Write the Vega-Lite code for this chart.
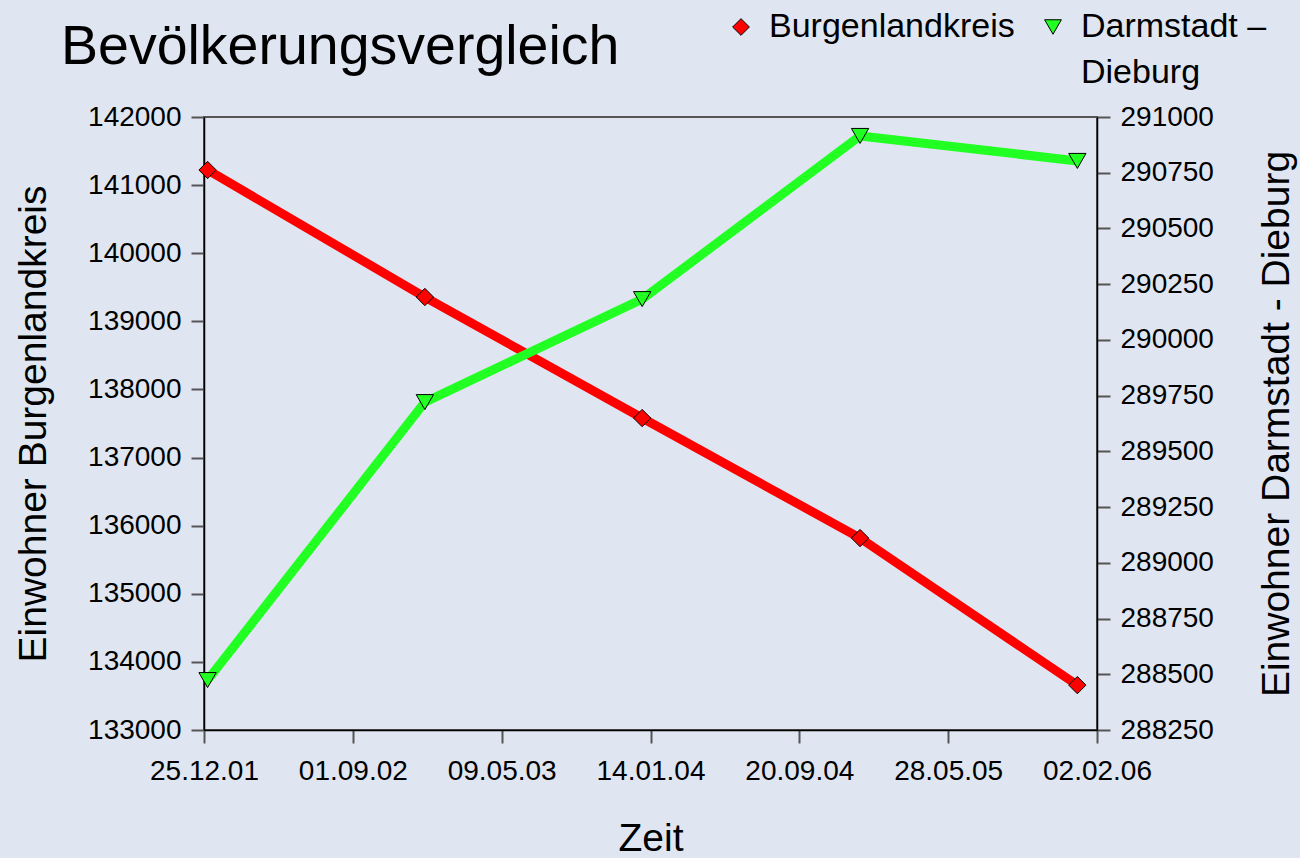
{
  "$schema": "https://vega.github.io/schema/vega-lite/v6.json",
  "autosize": "none",
  "width": 893,
  "height": 613,
  "padding": {"left": 204, "top": 117, "right": 203, "bottom": 128},
  "background": "#dfe6f1",
  "title": {
    "text": "Bevölkerungsvergleich",
    "anchor": "start",
    "frame": "group",
    "dx": -143,
    "dy": 65,
    "fontSize": 55.5,
    "font": "Liberation Sans",
    "fontWeight": "normal",
    "color": "#000000",
    "offset": 0
  },
  "config": {
    "font": "Liberation Sans",
    "view": {"stroke": "#555555", "strokeWidth": 2, "fill": null},
    "style": {"guide-label": {"lineHeight": 46}},
    "axis": {
      "grid": false,
      "domainColor": "#000000",
      "domainWidth": 1.5,
      "tickColor": "#555555",
      "tickWidth": 2,
      "tickSize": 13,
      "labelFontSize": 28,
      "labelColor": "#000000",
      "labelPadding": 10,
      "labelOverlap": false,
      "labelFlush": false,
      "titleFontSize": 39,
      "titleFontWeight": "normal",
      "titleColor": "#000000"
    },
    "legend": {
      "labelFontSize": 34,
      "labelColor": "#000000"
    }
  },
  "data": {
    "values": [
      {"date": "2001-12-31", "series": "Burgenlandkreis", "value": 141222},
      {"date": "2002-12-31", "series": "Burgenlandkreis", "value": 139357},
      {"date": "2003-12-31", "series": "Burgenlandkreis", "value": 137580},
      {"date": "2004-12-31", "series": "Burgenlandkreis", "value": 135818},
      {"date": "2005-12-31", "series": "Burgenlandkreis", "value": 133659},
      {"date": "2001-12-31", "series": "Darmstadt – Dieburg", "value": 288474},
      {"date": "2002-12-31", "series": "Darmstadt – Dieburg", "value": 289721},
      {"date": "2003-12-31", "series": "Darmstadt – Dieburg", "value": 290183},
      {"date": "2004-12-31", "series": "Darmstadt – Dieburg", "value": 290915},
      {"date": "2005-12-31", "series": "Darmstadt – Dieburg", "value": 290803}
    ]
  },
  "encoding": {
    "x": {
      "field": "date",
      "type": "temporal",
      "scale": {
        "type": "utc",
        "domain": [
          {"year": 2001, "month": 12, "date": 25, "utc": true},
          {"year": 2006, "month": 2, "date": 2, "utc": true}
        ]
      },
      "axis": {
        "title": "Zeit",
        "format": "%d.%m.%y",
        "labelPadding": 14,
        "titlePadding": 34,
        "values": [
          {"year": 2001, "month": 12, "date": 25, "utc": true},
          {"year": 2002, "month": 9, "date": 1, "utc": true},
          {"year": 2003, "month": 5, "date": 9, "utc": true},
          {"year": 2004, "month": 1, "date": 14, "utc": true},
          {"year": 2004, "month": 9, "date": 20, "utc": true},
          {"year": 2005, "month": 5, "date": 28, "utc": true},
          {"year": 2006, "month": 2, "date": 2, "utc": true}
        ]
      }
    }
  },
  "layer": [
    {
      "transform": [{"filter": "datum.series === 'Burgenlandkreis'"}],
      "encoding": {
        "y": {
          "field": "value",
          "type": "quantitative",
          "scale": {"domain": [133000, 142000], "zero": false, "nice": false},
          "axis": {
            "orient": "left",
            "title": "Einwohner Burgenlandkreis",
            "format": "d",
            "values": [133000, 134000, 135000, 136000, 137000, 138000, 139000, 140000, 141000, 142000],
            "titlePadding": 34
          }
        }
      },
      "layer": [
        {"mark": {"type": "line", "stroke": "#ff0000", "strokeWidth": 9}, "encoding": {}},
        {
          "mark": {"type": "point", "filled": true, "size": 300, "stroke": "#000000", "strokeWidth": 1, "opacity": 1},
          "encoding": {
            "fill": {"field": "series", "type": "nominal", "title": null,
              "scale": {"domain": ["Burgenlandkreis", "Darmstadt – Dieburg"], "range": ["#ff0000", "#22ff22"]}},
            "shape": {"field": "series", "type": "nominal", "title": null,
              "scale": {"domain": ["Burgenlandkreis", "Darmstadt – Dieburg"], "range": ["diamond", "triangle-down"]}}
          }
        }
      ]
    },
    {
      "transform": [{"filter": "datum.series !== 'Burgenlandkreis'"}],
      "encoding": {
        "y": {
          "field": "value",
          "type": "quantitative",
          "scale": {"domain": [288250, 291000], "zero": false, "nice": false},
          "axis": {
            "orient": "right",
            "title": "Einwohner Darmstadt - Dieburg",
            "titleAngle": 270,
            "format": "d",
            "values": [288250, 288500, 288750, 289000, 289250, 289500, 289750, 290000, 290250, 290500, 290750, 291000],
            "titlePadding": 83
          }
        }
      },
      "layer": [
        {"mark": {"type": "line", "stroke": "#22ff22", "strokeWidth": 9}, "encoding": {}},
        {
          "mark": {"type": "point", "filled": true, "size": 300, "stroke": "#000000", "strokeWidth": 1, "opacity": 1},
          "encoding": {
            "fill": {"field": "series", "type": "nominal", "title": null,
              "scale": {"domain": ["Burgenlandkreis", "Darmstadt – Dieburg"], "range": ["#ff0000", "#22ff22"]},
              "legend": {
                "orient": "none",
                "legendX": 520,
                "legendY": -107,
                "direction": "horizontal",
                "columnPadding": 21,
                "labelOffset": 11,
                "symbolSize": 280,
                "symbolStrokeColor": "#000000",
                "symbolStrokeWidth": 1,
                "symbolOpacity": 1,
                "labelLimit": 400,
                "labelExpr": "datum.label === 'Darmstadt – Dieburg' ? ['Darmstadt –', 'Dieburg'] : [datum.label, '']"
              }
            },
            "shape": {"field": "series", "type": "nominal", "title": null,
              "scale": {"domain": ["Burgenlandkreis", "Darmstadt – Dieburg"], "range": ["diamond", "triangle-down"]}}
          }
        }
      ]
    }
  ],
  "resolve": {"scale": {"y": "independent"}}
}
